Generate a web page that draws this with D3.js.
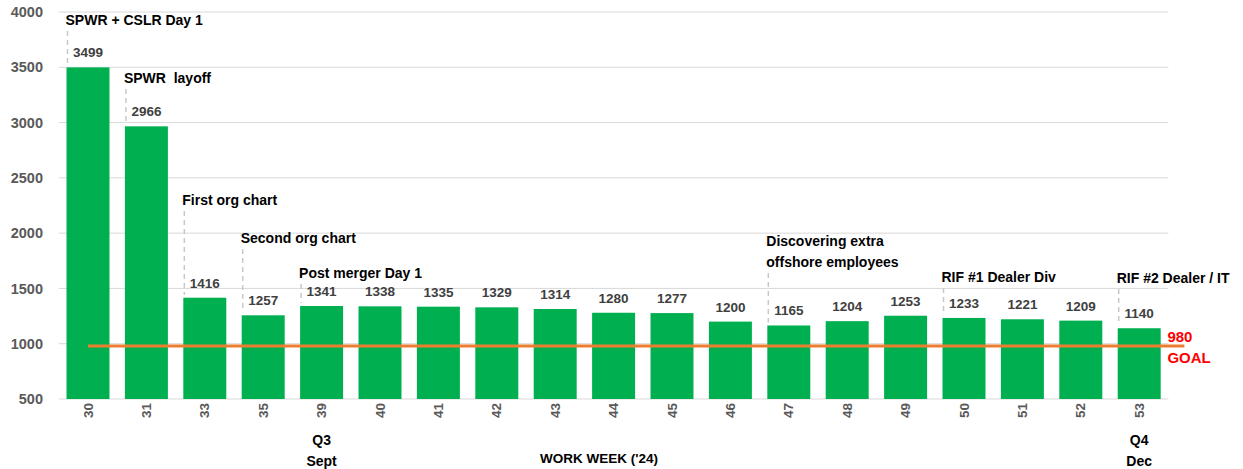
<!DOCTYPE html>
<html>
<head>
<meta charset="utf-8">
<script src="https://cdn.jsdelivr.net/npm/d3@7"></script>
<style>
  html, body { margin: 0; padding: 0; background: #fff; }
  svg { display: block; font-family: "Liberation Sans", Arial, sans-serif; }
  .note { white-space: pre; }
</style>
</head>
<body>
<svg id="chart" width="1243" height="469"></svg>
<script>
// Headcount by work week
const weeks = ["30", "31", "33", "35", "39", "40", "41", "42", "43", "44", "45", "46", "47", "48", "49", "50", "51", "52", "53"];
const headcount = [3499, 2966, 1416, 1257, 1341, 1338, 1335, 1329, 1314, 1280, 1277, 1200, 1165, 1204, 1253, 1233, 1221, 1209, 1140];
const yTicks = [500, 1000, 1500, 2000, 2500, 3000, 3500, 4000];
const goal = 980;
const goalLabel = ["980", "GOAL"];
const axisTitle = "WORK WEEK ('24)";

// Event notes attached to weeks
const noteWeeks = ["30", "31", "33", "35", "39", "47", "50", "53"];
const noteTexts = [
  ["SPWR + CSLR Day 1"],
  ["SPWR  layoff"],
  ["First org chart"],
  ["Second org chart"],
  ["Post merger Day 1"],
  ["Discovering extra", "offshore employees"],
  ["RIF #1 Dealer Div"],
  ["RIF #2 Dealer / IT"]
];
// Quarter markers under the axis
const quarterWeeks = ["39", "53"];
const quarterTexts = [["Q3", "Sept"], ["Q4", "Dec"]];

// Layout: baseline of the first line of each note (px)
const noteBaseline = { "30": 25, "31": 83, "33": 205, "35": 243, "39": 278, "47": 246, "50": 282, "53": 283 };

const svg = d3.select("#chart");
const margin = { left: 58.8, right: 1168.4, top: 12, bottom: 399 };

const x = d3.scaleBand().domain(weeks).range([margin.left, margin.right]).paddingInner(0.264).paddingOuter(0.132);
const y = d3.scaleLinear().domain([500, 4000]).range([margin.bottom, margin.top]);

// Gridlines
svg.append("g").selectAll("line").data(yTicks).join("line")
  .attr("x1", margin.left).attr("x2", margin.right)
  .attr("y1", d => y(d)).attr("y2", d => y(d))
  .attr("stroke", "#d9d9d9").attr("stroke-width", 1);

// Y axis labels
const yAxis = d3.axisLeft(y).tickValues(yTicks).tickSize(0).tickPadding(0).tickFormat(d3.format("d"));
svg.append("g").attr("transform", "translate(43,0)").call(yAxis)
  .call(g => g.select(".domain").remove())
  .selectAll("text")
  .attr("font-family", "Liberation Sans, Arial, sans-serif")
  .attr("font-size", 14.5).attr("font-weight", "bold").attr("fill", "#595959");

// Bars
svg.append("g").selectAll("rect").data(weeks).join("rect")
  .attr("x", d => x(d))
  .attr("width", x.bandwidth())
  .attr("y", (d, i) => y(headcount[i]))
  .attr("height", (d, i) => y(500) - y(headcount[i]))
  .attr("fill", "#00B050");

// X axis (rotated week labels)
const xAxis = d3.axisBottom(x).tickSize(0).tickPadding(0);
svg.append("g").attr("transform", `translate(0,${margin.bottom})`).call(xAxis)
  .call(g => g.select(".domain").remove())
  .selectAll("text")
  .attr("font-family", "Liberation Sans, Arial, sans-serif")
  .attr("font-size", 13.5).attr("font-weight", "bold").attr("fill", "#595959")
  .attr("text-anchor", "end")
  .attr("dy", null).attr("y", 0)
  .attr("dominant-baseline", "central")
  .attr("transform", "translate(0,4) rotate(-90)");

// Value labels
svg.append("g").selectAll("text").data(weeks).join("text")
  .attr("x", d => x(d) + x.bandwidth() / 2)
  .attr("y", (d, i) => y(headcount[i]) - 10)
  .attr("text-anchor", "middle")
  .attr("font-size", 13.5).attr("font-weight", "bold").attr("fill", "#404040")
  .text((d, i) => headcount[i]);

// Goal line
svg.append("line")
  .attr("x1", x(weeks[0]) + x.bandwidth() / 2)
  .attr("x2", margin.right + 16)
  .attr("y1", y(goal)).attr("y2", y(goal))
  .attr("stroke", "#ED7D31").attr("stroke-width", 3);

svg.append("g").selectAll("text").data(goalLabel).join("text")
  .attr("x", margin.right - 1)
  .attr("y", (d, i) => y(goal) - 4 + i * 21)
  .attr("font-size", 15).attr("font-weight", "bold").attr("fill", "#FF0000")
  .text(d => d);

// Event notes with dashed leaders
const notes = svg.append("g");
noteWeeks.forEach((w, k) => {
  const i = weeks.indexOf(w);
  const left = x(w);
  const base = noteBaseline[w];
  const lines = noteTexts[k];
  const lastBase = base + (lines.length - 1) * 21;
  notes.append("line")
    .attr("x1", left + 1).attr("x2", left + 1)
    .attr("y1", lastBase + 6)
    .attr("y2", y(headcount[i]) - 3)
    .attr("stroke", "#c8c8c8").attr("stroke-width", 1.5)
    .attr("stroke-dasharray", "5,4");
  lines.forEach((t, j) => {
    notes.append("text")
      .attr("class", "note")
      .attr("x", left - 1)
      .attr("y", base + j * 21)
      .attr("font-size", 14).attr("font-weight", "bold").attr("fill", "#000")
      .text(t);
  });
});

// Quarter markers
quarterWeeks.forEach((w, k) => {
  quarterTexts[k].forEach((t, j) => {
    svg.append("text")
      .attr("x", x(w) + x.bandwidth() / 2)
      .attr("y", 445 + j * 21)
      .attr("text-anchor", "middle")
      .attr("font-size", 14).attr("font-weight", "bold").attr("fill", "#000")
      .text(t);
  });
});

// Axis title
svg.append("text")
  .attr("x", 599).attr("y", 463)
  .attr("text-anchor", "middle")
  .attr("font-size", 13.5).attr("font-weight", "bold").attr("fill", "#000")
  .text(axisTitle);
</script>
</body>
</html>
